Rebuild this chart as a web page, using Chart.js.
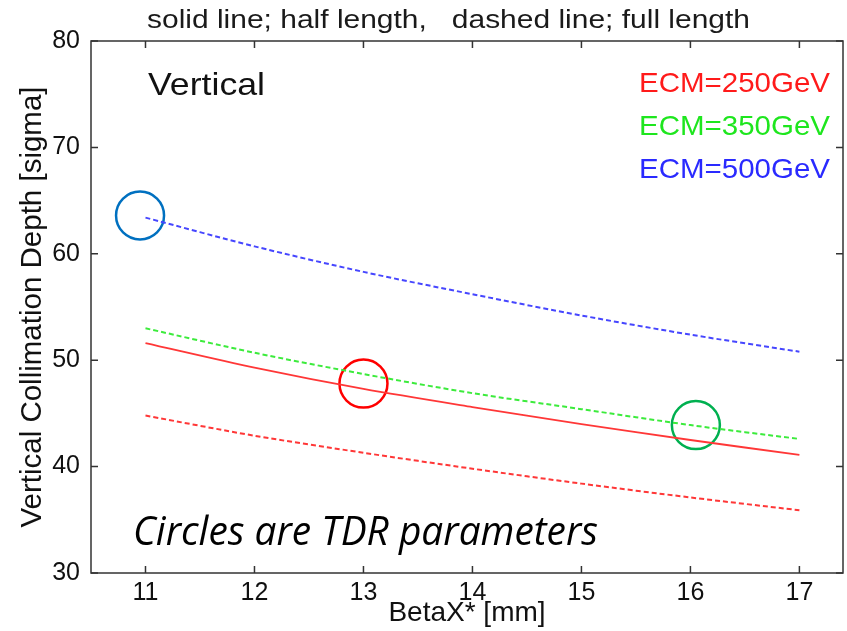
<!DOCTYPE html>
<html>
<head>
<meta charset="utf-8">
<script src="https://cdn.jsdelivr.net/npm/chart.js@4.4.0/dist/chart.umd.min.js"></script>
<style>
  html, body { margin: 0; padding: 0; background: #fff; overflow: hidden; }
</style>
</head>
<body>
<canvas id="chart" width="847" height="631"></canvas>
<script>
// values
const betaX = [11, 12, 13, 14, 15, 16, 17];
const ecm250Half = [51.6, 49.3, 47.3, 45.6, 44.0, 42.5, 41.1];   // solid red
const ecm250Full = [44.8, 42.9, 41.3, 39.8, 38.4, 37.1, 35.9];   // dashed red
const ecm350Full = [53.0, 50.7, 48.7, 46.9, 45.4, 43.9, 42.6];   // dashed green
const ecm500Full = [63.4, 60.7, 58.3, 56.2, 54.2, 52.4, 50.8];   // dashed blue
const tdrBeta = [10.95, 13.0, 16.05];
const tdrDepth = [63.6, 47.8, 43.9];
const tdrColors = ["#0070C0", "#FF0000", "#00B050"];
const xTicks = [11, 12, 13, 14, 15, 16, 17];
const yTicks = [30, 40, 50, 60, 70, 80];
const legendLabels = ["ECM=250GeV", "ECM=350GeV", "ECM=500GeV"];
const legendColors = ["#ff1a1a", "#1ee61e", "#2a2aff"];

const RED = "rgb(255,55,55)", GREEN = "rgb(60,235,60)", BLUE = "rgb(70,70,255)";

function pts(xs, ys){ return xs.map((x, i) => ({x: x, y: ys[i]})); }

function lineSet(label, values, color, dashed){
    return {
        label: label,
        data: pts(betaX, values),
        borderColor: color,
        borderWidth: dashed ? 2 : 1.8,
        borderDash: dashed ? [5, 3] : [],
        pointRadius: 0,
        fill: false,
        tension: 0.3
    };
}

// stretch text horizontally to the width it has in the picture
function fitText(ctx, text, x, y, width, font, color){
    ctx.save();
    ctx.font = font;
    ctx.fillStyle = color;
    ctx.textBaseline = "alphabetic";
    ctx.textAlign = "left";
    let w = ctx.measureText(text).width;
    ctx.translate(x, y);
    ctx.scale(width / w, 1);
    ctx.fillText(text, 0, 0);
    ctx.restore();
}

const frameAndText = {
    id: "frameAndText",
    afterDraw(chart){
        const ctx = chart.ctx, a = chart.chartArea;
        const xs = chart.scales.x, ys = chart.scales.y;
        ctx.save();
        ctx.strokeStyle = "#333";
        ctx.lineWidth = 1.5;
        ctx.strokeRect(a.left, a.top, a.right - a.left, a.bottom - a.top);
        ctx.beginPath();
        xTicks.forEach((v) => {
            let px = xs.getPixelForValue(v);
            ctx.moveTo(px, a.bottom); ctx.lineTo(px, a.bottom - 7);
            ctx.moveTo(px, a.top); ctx.lineTo(px, a.top + 7);
        });
        yTicks.forEach((v) => {
            let py = ys.getPixelForValue(v);
            ctx.moveTo(a.left, py); ctx.lineTo(a.left + 7, py);
            ctx.moveTo(a.right, py); ctx.lineTo(a.right - 7, py);
        });
        ctx.stroke();
        ctx.restore();

        fitText(ctx, "solid line; half length,   dashed line; full length", 147, 28, 603, "26px 'Liberation Sans'", "#1a1a1a");
        fitText(ctx, "Vertical", 148, 95, 117, "32px 'Liberation Sans'", "#111");
        legendLabels.forEach((t, i) => {
            fitText(ctx, t, 639, 92 + i * 43, 191, "28px 'Liberation Sans'", legendColors[i]);
        });
        fitText(ctx, "Circles are TDR parameters", 133, 545, 465, "italic 40px 'Open Sans'", "#000");
    }
};

const datasets = [
    lineSet("ECM=250GeV half", ecm250Half, RED, false),
    lineSet("ECM=250GeV full", ecm250Full, RED, true),
    lineSet("ECM=350GeV full", ecm350Full, GREEN, true),
    lineSet("ECM=500GeV full", ecm500Full, BLUE, true),
    {
        type: "scatter",
        label: "TDR",
        data: pts(tdrBeta, tdrDepth),
        pointRadius: 24,
        pointBorderWidth: 2.5,
        pointBorderColor: tdrColors,
        pointBackgroundColor: "rgba(0,0,0,0)",
        showLine: false
    }
];

new Chart(document.getElementById("chart"), {
    type: "line",
    data: { datasets: datasets },
    options: {
        responsive: false,
        animation: false,
        devicePixelRatio: 1,
        layout: { autoPadding: false, padding: { top: 41, right: 4, left: 0, bottom: 0 } },
        plugins: { legend: { display: false }, tooltip: { enabled: false } },
        scales: {
            x: {
                type: "linear",
                min: 10.5,
                max: 17.4,
                afterBuildTicks: (s) => { s.ticks = xTicks.map((v) => ({value: v})); },
                afterFit: (s) => { s.height = 58; s.paddingLeft = 0; s.paddingRight = 0; },
                grid: { display: false, drawTicks: false },
                border: { display: false },
                ticks: { padding: 5, color: "#111", font: { family: "Liberation Sans", size: 25 } },
                title: { display: true, text: "BetaX* [mm]", color: "#111", padding: { top: 0, bottom: 1 },
                         font: { family: "Liberation Sans", size: 28 } }
            },
            y: {
                min: 30,
                max: 80,
                afterBuildTicks: (s) => { s.ticks = yTicks.map((v) => ({value: v})); },
                afterFit: (s) => { s.width = 91; s.paddingTop = 0; s.paddingBottom = 0; },
                grid: { display: false, drawTicks: false },
                border: { display: false },
                ticks: { padding: 11, color: "#111", font: { family: "Liberation Sans", size: 25 } },
                title: { display: true, text: "Vertical Collimation Depth [sigma]", color: "#111",
                         padding: { top: 15, bottom: 0 }, font: { family: "Liberation Sans", size: 29.5 } }
            }
        }
    },
    plugins: [frameAndText]
});
</script>
</body>
</html>
